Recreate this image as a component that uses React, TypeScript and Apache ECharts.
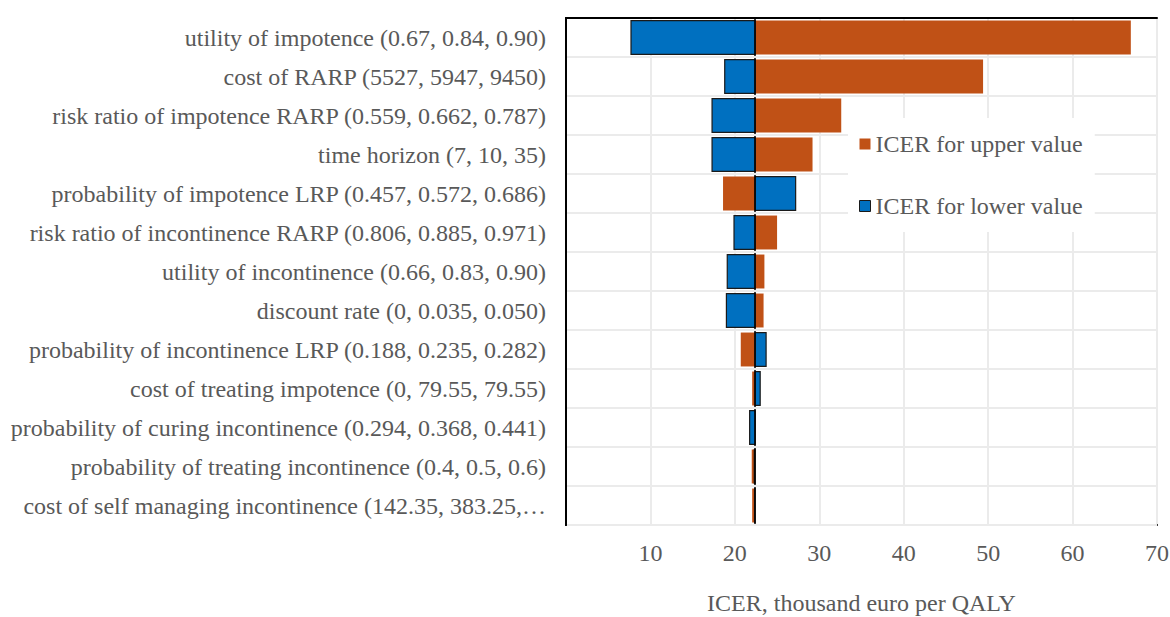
import React, { useEffect, useRef } from "react";
import * as echarts from "echarts";

// Tornado diagram: one-way sensitivity analysis of the ICER
const parameters = [
  "utility of impotence (0.67, 0.84, 0.90)",
  "cost of RARP (5527, 5947, 9450)",
  "risk ratio of impotence RARP (0.559, 0.662, 0.787)",
  "time horizon (7, 10, 35)",
  "probability of impotence LRP (0.457, 0.572, 0.686)",
  "risk ratio of incontinence RARP (0.806, 0.885, 0.971)",
  "utility of incontinence (0.66, 0.83, 0.90)",
  "discount rate (0, 0.035, 0.050)",
  "probability of incontinence LRP (0.188, 0.235, 0.282)",
  "cost of treating impotence (0, 79.55, 79.55)",
  "probability of curing incontinence (0.294, 0.368, 0.441)",
  "probability of treating incontinence (0.4, 0.5, 0.6)",
  "cost of self managing incontinence (142.35, 383.25,…",
];

// ICER (thousand euro per QALY) at the base case
const baseIcer = 22.4;

// ICER when each parameter is set to its upper value
const icerUpper = [66.9, 49.4, 32.6, 29.2, 18.6, 25.0, 23.5, 23.4, 20.7, 22.05, 22.5, 22.0, 22.05];

// ICER when each parameter is set to its lower value
const icerLower = [7.7, 18.8, 17.3, 17.3, 27.2, 19.9, 19.1, 19.0, 23.7, 23.0, 21.75, 22.3, 22.35];

const xTicks = [0, 10, 20, 30, 40, 50, 60, 70];

const ORANGE = "#C05116";
const BLUE = "#0070C0";
const TEXT = "#595959";
const FONT = "'Liberation Serif', 'Times New Roman', serif";
const FS = 24;

function barRenderer(hasBorder: boolean) {
  return (params: any, api: any) => {
    const cat = api.value(0);
    const v = api.value(1);
    const a = api.coord([baseIcer, cat]);
    const b = api.coord([v, cat]);
    const h = api.size([0, 1])[1] * 0.87;
    const x0 = Math.min(a[0], b[0]);
    const w = Math.abs(b[0] - a[0]);
    return {
      type: "rect",
      shape: { x: x0, y: a[1] - h / 2, width: w, height: h },
      style: {
        fill: api.visual("color"),
        stroke: hasBorder ? "#1a1a1a" : null,
        lineWidth: hasBorder ? 1.2 : 0,
      },
    };
  };
}

export default function App() {
  const ref = useRef<HTMLDivElement>(null);

  useEffect(() => {
    if (!ref.current) return;
    const chart = echarts.init(ref.current, null, { renderer: "svg" });
    const frameLine = { show: true, lineStyle: { color: "#000000", width: 2 } };
    chart.setOption({
      animation: false,
      backgroundColor: "#ffffff",
      textStyle: { fontFamily: FONT },
      grid: {
        left: 566,
        top: 18,
        right: 13,
        bottom: 92,
        containLabel: false,
        outerBoundsMode: "none",
      },
      legend: {
        orient: "vertical",
        left: 848,
        top: 118,
        width: 244,
        z: 20,
        padding: [14, 12, 14, 11],
        itemGap: 38,
        itemWidth: 11,
        itemHeight: 11,
        backgroundColor: "#ffffff",
        textStyle: { fontFamily: FONT, fontSize: FS, color: TEXT },
        data: [
          { name: "ICER for upper value", icon: "rect", itemStyle: { color: ORANGE, borderWidth: 0 } },
          {
            name: "ICER for lower value",
            icon: "rect",
            itemStyle: { color: BLUE, borderColor: "#1a1a1a", borderWidth: 1 },
          },
        ],
      },
      xAxis: [
        {
          type: "value",
          min: xTicks[0],
          max: xTicks[xTicks.length - 1],
          interval: 10,
          name: "ICER, thousand euro per QALY",
          nameLocation: "middle",
          nameGap: 66,
          nameTextStyle: { fontFamily: FONT, fontSize: FS, color: TEXT },
          axisLine: frameLine,
          axisTick: { show: false },
          axisLabel: {
            fontFamily: FONT,
            fontSize: FS,
            color: TEXT,
            margin: 16,
            formatter: (v: number) => (v === 0 ? "" : String(v)),
          },
          splitLine: { show: true, lineStyle: { color: "#ebebeb", width: 2 } },
          z: 1,
        },
        {
          type: "value",
          position: "top",
          min: xTicks[0],
          max: xTicks[xTicks.length - 1],
          interval: 10,
          axisLine: frameLine,
          axisTick: { show: false },
          axisLabel: { show: false },
          splitLine: { show: false },
          z: 10,
        },
      ],
      yAxis: [
        {
          type: "category",
          inverse: true,
          data: parameters,
          axisLine: frameLine,
          axisTick: { show: false },
          axisLabel: { fontFamily: FONT, fontSize: FS, color: TEXT, margin: 20 },
          splitLine: { show: true, lineStyle: { color: "#ebebeb", width: 2 } },
          z: 10,
        },
        {
          type: "category",
          position: "right",
          inverse: true,
          data: parameters,
          axisLine: frameLine,
          axisTick: { show: false },
          axisLabel: { show: false },
          splitLine: { show: false },
          z: 10,
        },
      ],
      series: [
        {
          name: "ICER for upper value",
          type: "custom",
          color: ORANGE,
          itemStyle: { color: ORANGE },
          encode: { x: 1, y: 0 },
          renderItem: barRenderer(false),
          data: icerUpper.map((v, i) => [i, v]),
          z: 2,
        },
        {
          name: "ICER for lower value",
          type: "custom",
          color: BLUE,
          itemStyle: { color: BLUE },
          encode: { x: 1, y: 0 },
          renderItem: barRenderer(true),
          data: icerLower.map((v, i) => [i, v]),
          z: 3,
          markLine: {
            silent: true,
            symbol: "none",
            label: { show: false },
            lineStyle: { color: "#000000", width: 1.5, type: "solid" },
            data: [{ xAxis: baseIcer }],
            z: 5,
          },
        },
      ],
    });
    return () => chart.dispose();
  }, []);

  return (
    <div
      ref={ref}
      style={{ position: "fixed", left: 0, top: 0, width: 1170, height: 617 }}
    />
  );
}
